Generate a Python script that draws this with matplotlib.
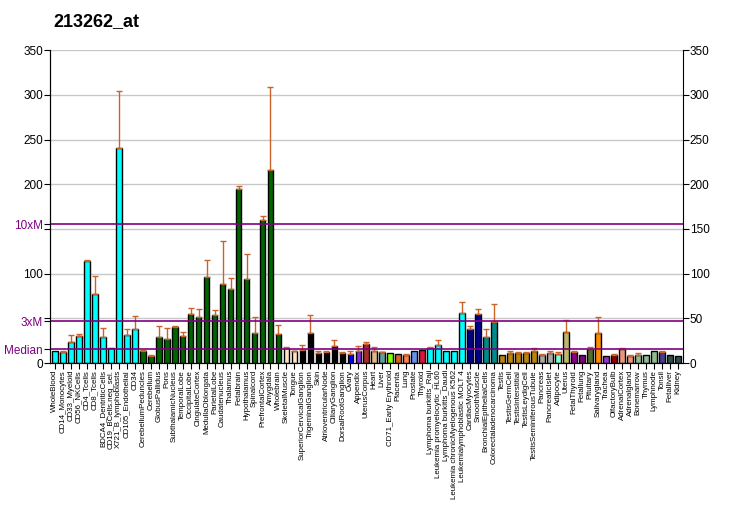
import matplotlib
matplotlib.use("Agg")
import matplotlib.pyplot as plt
import numpy as np

plt.rcParams["font.family"] = ["Liberation Sans", "DejaVu Sans"]

title = "213262_at"

labels = [
    "WholeBlood", "CD14_Monocytes", "CD33_Myeloid", "CD56_NKCells", "CD4_Tcells",
    "CD8_Tcells", "BDCA4_DentriticCells", "CD19_BCells.neg_sel.", "X721_B_lymphoblasts",
    "CD105_Endothelial", "CD34", "CerebellumPeduncles", "Cerebellum", "GlobusPallidus",
    "Pons", "SubthalamicNucleus", "TemporalLobe", "OccipitalLobe", "CingulateCortex",
    "MedullaOblongata", "ParietalLobe", "Caudatenucleus", "Thalamus", "Fetalbrain",
    "Hypothalamus", "Spinalcord", "PrefrontalCortex", "Amygdala", "Wholebrain",
    "SkeletalMuscle", "Tongue", "SuperiorCervicalGanglion", "TrigeminalGanglion", "Skin",
    "AtrioventricularNode", "CiliaryGanglion", "DorsalRootGanglion", "Ovary", "Appendix",
    "UterusCorpus", "Heart", "Liver", "CD71_Early Erythroid", "Placenta", "Lung",
    "Prostate", "Thyroid", "Lymphoma burkitts_Raji", "Leukemia promyelocytic_HL60",
    "Lymphoma burkitts_Daudi", "Leukemia chronicMyelogenous K562",
    "Leukemialymphoblastic MOLT 4", "CardiacMyocytes", "SmoothMuscle",
    "BronchialEpithelialCells", "Colorectaladenocarcinoma", "Testis", "TestisGermCell",
    "TestisInterstitial", "TestisLeydigCell", "TestisSeminiferousTubule", "Pancreas",
    "PancreaticIslet", "Adipocyte", "Uterus", "FetalThyroid", "Fetallung", "Pituitary",
    "Salivarygland", "Trachea", "OlfactoryBulb", "AdrenalCortex", "Adrenalgland",
    "Bonemarrow", "Thymus", "Lymphnode", "Tonsil", "Fetalliver", "Kidney",
]

values = [
    13.4, 12.0, 24.0, 30.0, 114.0, 77.0, 28.7, 16.4, 241.0, 31.0, 37.7,
    13.4, 7.8, 28.7, 26.5, 40.3, 30.0, 54.8, 51.0, 95.8, 53.7, 88.0, 82.8,
    194.6, 93.6, 33.6, 159.6, 215.5, 32.4, 16.4, 13.4, 15.0, 33.6, 11.2,
    12.7, 19.0, 11.2, 9.7, 14.0, 20.9, 13.4, 12.3, 11.2, 9.7, 9.0, 13.4,
    14.5, 16.4, 20.1, 13.4, 13.4, 55.6, 37.7, 54.4, 28.7, 46.2, 8.6, 11.2,
    11.2, 11.2, 13.4, 9.0, 11.2, 10.4, 34.7, 12.3, 8.6, 15.7, 33.6, 7.8,
    9.0, 15.7, 7.8, 8.6, 8.6, 13.4, 12.3, 8.6, 7.8,
]

err_top = [
    13.4, 14.0, 31.0, 32.5, 115.0, 97.0, 38.8, 16.4, 304.0, 37.7, 52.5,
    14.5, 8.6, 41.0, 38.8, 41.0, 34.3, 62.0, 60.0, 115.0, 59.0, 136.0, 94.7,
    197.6, 121.6, 51.0, 164.0, 308.7, 42.0, 17.5, 14.0, 19.8, 53.3, 14.0,
    14.0, 25.4, 12.0, 14.0, 18.6, 23.0, 17.5, 12.7, 11.2, 9.7, 10.0, 13.4,
    14.5, 17.9, 25.7, 13.4, 13.4, 67.9, 41.0, 61.0, 37.7, 65.6, 8.6, 13.4,
    12.7, 12.0, 16.4, 10.0, 13.4, 12.0, 47.7, 13.4, 8.6, 17.9, 51.0, 7.8,
    10.0, 16.8, 8.6, 11.2, 8.6, 13.4, 13.4, 8.6, 7.8,
]

colors = (
    ["#00FFFF"] * 11 + ["#006400"] * 18 + ["#FFE4C4"] * 2 + ["#000000"] * 6
    + ["#0000FF", "#8A2BE2", "#A52A2A", "#DEB887", "#5F9EA0", "#7FFF00", "#D2691E",
       "#FF7F50", "#6495ED", "#DC143C"]
    + ["#00FFFF"] * 5 + ["#00008B"] * 2 + ["#008B8B"] * 2 + ["#B8860B"] * 5
    + ["#A9A9A9"] * 2
    + ["#7FFFD4", "#BDB76B", "#8B008B", "#800080", "#556B2F", "#FF8C00", "#9932CC",
       "#8B0000", "#E9967A", "#E9967A", "#8FBC8F", "#8FBC8F", "#8FBC8F", "#483D8B",
       "#2F4F4F", "#2F4F4F"]
)

median = 15.5
levels = {"Median": median, "3xM": 3 * median, "10xM": 10 * median}

fig = plt.figure(figsize=(7.32, 5.30), dpi=100)
ax = fig.add_axes([0.0683, 0.315, 0.8644, 0.5905])

x = np.arange(len(labels))
ax.set_axisbelow(True)
for g in range(50, 351, 50):
    ax.axhline(g, color="#c8c8c8", lw=1, zorder=0)

ax.bar(x, values, width=0.72, color=colors, edgecolor="black", linewidth=1, zorder=2)

vals = np.array(values)
tops = np.array(err_top)
has_err = tops - vals > 0.3
ax.errorbar(x[has_err], vals[has_err], yerr=[np.zeros(has_err.sum()), (tops - vals)[has_err]],
            fmt="none", ecolor="#C8642A", elinewidth=1, capsize=2.5, capthick=1, zorder=3)

for name, v in levels.items():
    ax.axhline(v, color="#800080", lw=1.2, zorder=4)

ax.set_xlim(-0.6, len(labels) - 0.4)
ax.set_ylim(0, 350)

ax.set_xticks(x)
ax.set_xticklabels(labels, rotation=90, fontsize=5.7)
ax.tick_params(axis="x", length=4, pad=1)

ticks = [0, levels["Median"], levels["3xM"], 50, 100, 150, levels["10xM"], 200, 250, 300, 350]
tlabels = ["0", "Median", "3xM", "", "100", "", "10xM", "200", "250", "300", "350"]
ax.set_yticks(ticks)
ax.set_yticklabels(tlabels, fontsize=8.5)
ax.tick_params(axis="y", length=4, pad=1)
for t, lab in zip(ax.get_yticklabels(), tlabels):
    if lab in levels:
        t.set_color("#800080")
for tl, lab in zip(ax.yaxis.get_major_ticks(), tlabels):
    if lab in levels:
        tl.tick1line.set_color("#800080")

ax2 = ax.twinx()
ax2.set_ylim(0, 350)
ax2.set_yticks(range(0, 351, 50))
ax2.tick_params(axis="y", length=4, labelsize=8.5, pad=1)

for a in (ax, ax2):
    a.spines["top"].set_visible(False)
ax.spines["right"].set_visible(False)

fig.text(53 / 732, 1 - 22 / 530, title, fontsize=13, fontweight="bold", va="center")

fig.savefig("out.png", dpi=100)
